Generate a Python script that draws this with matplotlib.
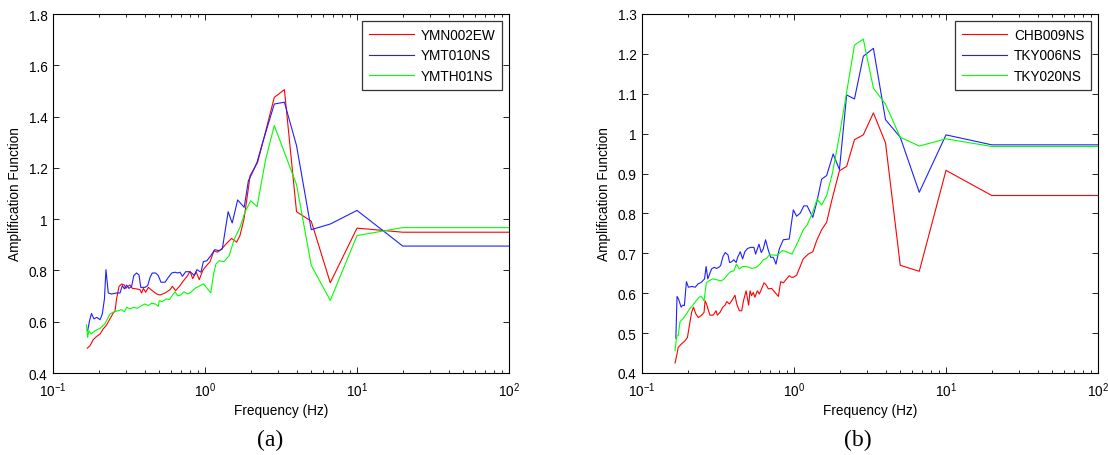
import matplotlib
matplotlib.use("Agg")
import matplotlib.pyplot as plt
from matplotlib.ticker import FuncFormatter, LogLocator, NullFormatter

plt.rcParams['font.family'] = ['Liberation Sans', 'DejaVu Sans']
plt.rcParams['mathtext.default'] = 'regular'

# ---- panel (a) ----
a_red_f = [0.168, 0.175, 0.184, 0.194, 0.204, 0.214, 0.225, 0.237, 0.247, 0.256, 0.262, 0.272,
           0.283, 0.295, 0.301, 0.310, 0.321, 0.333, 0.355, 0.373, 0.383, 0.393, 0.407, 0.424,
           0.450, 0.481, 0.506, 0.546, 0.589, 0.610, 0.641, 0.685, 0.710, 0.739, 0.769, 0.797,
           0.830, 0.873, 0.917, 0.966, 1.01, 1.079, 1.146, 1.205, 1.288, 1.375, 1.497, 1.614,
           1.698, 1.806, 1.90, 1.98, 2.10, 2.22, 2.5, 2.857, 3.33, 4.0, 5.0, 6.67, 10, 20, 100]
a_red_v = [0.497, 0.506, 0.530, 0.543, 0.552, 0.572, 0.587, 0.611, 0.630, 0.643, 0.689, 0.738,
           0.747, 0.743, 0.730, 0.738, 0.743, 0.730, 0.728, 0.725, 0.712, 0.730, 0.715, 0.734,
           0.721, 0.708, 0.704, 0.712, 0.725, 0.738, 0.721, 0.741, 0.754, 0.767, 0.780, 0.797,
           0.768, 0.795, 0.764, 0.800, 0.815, 0.834, 0.877, 0.871, 0.884, 0.903, 0.925, 0.910,
           0.936, 1.001, 1.092, 1.170, 1.196, 1.222, 1.34, 1.475, 1.505, 1.029, 0.992, 0.752,
           0.965, 0.949, 0.949]

a_blue_f = [0.169, 0.174, 0.179, 0.186, 0.194, 0.204, 0.211, 0.218, 0.223, 0.231, 0.243, 0.262,
            0.276, 0.286, 0.295, 0.305, 0.316, 0.329, 0.340, 0.355, 0.368, 0.378, 0.403, 0.420,
            0.435, 0.450, 0.473, 0.493, 0.513, 0.546, 0.574, 0.604, 0.635, 0.661, 0.685, 0.710,
            0.746, 0.785, 0.817, 0.851, 0.884, 0.941, 0.975, 1.03, 1.09, 1.16, 1.24, 1.30, 1.42,
            1.51, 1.64, 1.81, 1.93, 2.03, 2.20, 2.38, 2.857, 3.33, 4.0, 5.0, 6.67, 10, 20, 100]
a_blue_v = [0.565, 0.604, 0.632, 0.611, 0.617, 0.608, 0.630, 0.689, 0.803, 0.712, 0.708, 0.712,
            0.712, 0.741, 0.728, 0.743, 0.730, 0.738, 0.780, 0.790, 0.782, 0.734, 0.734, 0.741,
            0.773, 0.790, 0.790, 0.780, 0.754, 0.754, 0.773, 0.790, 0.793, 0.790, 0.793, 0.777,
            0.795, 0.795, 0.790, 0.780, 0.803, 0.793, 0.834, 0.838, 0.857, 0.881, 0.877, 0.884,
            1.029, 0.985, 1.075, 1.046, 1.150, 1.176, 1.222, 1.293, 1.449, 1.456, 1.287, 0.959,
            0.981, 1.034, 0.895, 0.895]

a_green_f = [0.166, 0.169, 0.172, 0.178, 0.189, 0.204, 0.219, 0.231, 0.237, 0.249, 0.269, 0.283,
             0.295, 0.305, 0.321, 0.340, 0.358, 0.383, 0.403, 0.424, 0.445, 0.473, 0.493, 0.500,
             0.522, 0.556, 0.583, 0.604, 0.635, 0.661, 0.693, 0.728, 0.767, 0.805, 0.858, 0.910,
             0.975, 1.0, 1.092, 1.134, 1.18, 1.24, 1.33, 1.44, 1.56, 1.70, 1.83, 2.0, 2.2, 2.5,
             2.857, 3.33, 4.0, 5.0, 6.67, 10, 20, 100]
a_green_v = [0.587, 0.539, 0.565, 0.552, 0.565, 0.574, 0.591, 0.617, 0.630, 0.637, 0.643, 0.647,
             0.639, 0.656, 0.650, 0.656, 0.652, 0.663, 0.669, 0.663, 0.672, 0.669, 0.660, 0.682,
             0.678, 0.689, 0.686, 0.699, 0.717, 0.701, 0.704, 0.717, 0.708, 0.714, 0.730, 0.738,
             0.748, 0.741, 0.712, 0.780, 0.825, 0.838, 0.834, 0.857, 0.923, 0.968, 1.027, 1.072,
             1.049, 1.23, 1.365, 1.26, 1.135, 0.82, 0.683, 0.936, 0.967, 0.967]

# ---- panel (b) ----
b_red_f = [0.165, 0.169, 0.173, 0.182, 0.192, 0.199, 0.205, 0.212, 0.218, 0.226, 0.235, 0.247,
           0.256, 0.260, 0.266, 0.272, 0.280, 0.294, 0.307, 0.313, 0.326, 0.340, 0.352, 0.361,
           0.376, 0.389, 0.409, 0.420, 0.437, 0.453, 0.465, 0.484, 0.503, 0.514, 0.526, 0.540,
           0.553, 0.574, 0.591, 0.612, 0.635, 0.655, 0.678, 0.713, 0.750, 0.789, 0.817, 0.851,
           0.885, 0.931, 0.96, 0.99, 1.04, 1.15, 1.24, 1.33, 1.41, 1.52, 1.64, 1.77, 1.99, 2.22,
           2.5, 2.857, 3.33, 4.0, 5.0, 6.67, 10, 20, 100]
b_red_v = [0.425, 0.443, 0.464, 0.473, 0.481, 0.489, 0.519, 0.552, 0.565, 0.548, 0.539, 0.545,
           0.552, 0.581, 0.573, 0.560, 0.545, 0.545, 0.556, 0.545, 0.552, 0.565, 0.570, 0.579,
           0.573, 0.581, 0.595, 0.573, 0.556, 0.556, 0.581, 0.606, 0.570, 0.606, 0.594, 0.602,
           0.590, 0.606, 0.598, 0.611, 0.626, 0.621, 0.611, 0.612, 0.602, 0.592, 0.629, 0.626,
           0.634, 0.644, 0.640, 0.640, 0.645, 0.686, 0.698, 0.704, 0.732, 0.759, 0.778, 0.832,
           0.907, 0.918, 0.985, 0.997, 1.052, 0.977, 0.670, 0.655, 0.908, 0.845, 0.845]

b_blue_f = [0.167, 0.170, 0.174, 0.181, 0.185, 0.190, 0.196, 0.202, 0.213, 0.224, 0.233, 0.245,
            0.258, 0.264, 0.271, 0.276, 0.287, 0.299, 0.309, 0.320, 0.329, 0.341, 0.353, 0.368,
            0.377, 0.390, 0.402, 0.416, 0.426, 0.443, 0.459, 0.475, 0.494, 0.519, 0.545, 0.559,
            0.574, 0.588, 0.609, 0.628, 0.650, 0.674, 0.702, 0.731, 0.761, 0.80, 0.85, 0.93, 0.99,
            1.04, 1.10, 1.16, 1.22, 1.33, 1.42, 1.52, 1.64, 1.81, 1.99, 2.22, 2.5, 2.857, 3.33,
            4.0, 5.0, 6.67, 10, 20, 100]
b_blue_v = [0.487, 0.592, 0.585, 0.565, 0.570, 0.569, 0.629, 0.615, 0.617, 0.615, 0.623, 0.627,
            0.636, 0.667, 0.636, 0.644, 0.661, 0.665, 0.662, 0.665, 0.669, 0.692, 0.702, 0.696,
            0.677, 0.679, 0.684, 0.677, 0.690, 0.704, 0.686, 0.704, 0.712, 0.715, 0.715, 0.698,
            0.711, 0.723, 0.702, 0.711, 0.734, 0.711, 0.690, 0.690, 0.673, 0.711, 0.734, 0.736,
            0.809, 0.793, 0.801, 0.819, 0.819, 0.790, 0.832, 0.886, 0.895, 0.949, 0.910, 1.097,
            1.087, 1.194, 1.214, 1.035, 0.991, 0.853, 0.997, 0.972, 0.972]

b_green_f = [0.165, 0.169, 0.173, 0.178, 0.187, 0.196, 0.205, 0.216, 0.227, 0.238, 0.246, 0.256,
             0.265, 0.276, 0.292, 0.309, 0.332, 0.348, 0.368, 0.383, 0.402, 0.418, 0.437, 0.459,
             0.481, 0.505, 0.530, 0.565, 0.598, 0.628, 0.660, 0.687, 0.722, 0.77, 0.84, 0.89,
             0.97, 1.06, 1.15, 1.22, 1.33, 1.42, 1.52, 1.64, 1.79, 2.0, 2.22, 2.5, 2.857, 3.33,
             4.0, 5.0, 6.67, 10, 20, 100]
b_green_v = [0.456, 0.492, 0.494, 0.529, 0.537, 0.548, 0.560, 0.570, 0.581, 0.590, 0.592, 0.581,
             0.626, 0.631, 0.636, 0.634, 0.631, 0.636, 0.648, 0.654, 0.656, 0.673, 0.661, 0.667,
             0.667, 0.665, 0.662, 0.665, 0.673, 0.684, 0.687, 0.696, 0.696, 0.695, 0.707, 0.704,
             0.698, 0.728, 0.759, 0.771, 0.804, 0.836, 0.821, 0.845, 0.901, 1.0, 1.104, 1.222,
             1.237, 1.114, 1.074, 0.991, 0.969, 0.987, 0.968, 0.968]

a_labels = ['YMN002EW', 'YMT010NS', 'YMTH01NS']
b_labels = ['CHB009NS', 'TKY006NS', 'TKY020NS']
colors = ['#ff0000', '#2020ff', '#00ff00']

fig = plt.figure(figsize=(11.08, 4.56), dpi=100)
ax1 = fig.add_axes([53 / 1108, 82 / 456, 456 / 1108, 359 / 456])
ax2 = fig.add_axes([642 / 1108, 82 / 456, 456 / 1108, 359 / 456])

fmt = FuncFormatter(lambda v, p: '%g' % v)
fs = 9.8


def style(ax, ylim, yticks):
    ax.set_xscale('log')
    ax.set_xlim(0.1, 100)
    ax.set_ylim(*ylim)
    ax.set_yticks(yticks)
    ax.yaxis.set_major_formatter(fmt)
    ax.xaxis.set_major_locator(LogLocator(base=10, numticks=10))
    ax.xaxis.set_minor_locator(LogLocator(base=10, subs=range(2, 10), numticks=10))
    ax.xaxis.set_minor_formatter(NullFormatter())
    ax.tick_params(which='both', direction='in', top=True, right=True, labelsize=fs)
    ax.tick_params(axis='x', pad=5)
    ax.tick_params(axis='y', pad=4)
    ax.tick_params(which='major', length=4, width=0.6)
    ax.tick_params(which='minor', length=2, width=0.6)
    for s in ax.spines.values():
        s.set_linewidth(0.8)
    ax.set_xlabel('Frequency (Hz)', fontsize=fs, labelpad=3)
    ax.set_ylabel('Amplification Function', fontsize=fs, labelpad=5)


ax1.plot(a_red_f, a_red_v, color=colors[0], lw=0.8, label=a_labels[0])
ax1.plot(a_blue_f, a_blue_v, color=colors[1], lw=0.8, label=a_labels[1])
ax1.plot(a_green_f, a_green_v, color=colors[2], lw=0.8, label=a_labels[2])
style(ax1, (0.4, 1.8), [0.4, 0.6, 0.8, 1.0, 1.2, 1.4, 1.6, 1.8])

ax2.plot(b_red_f, b_red_v, color=colors[0], lw=0.8, label=b_labels[0])
ax2.plot(b_blue_f, b_blue_v, color=colors[1], lw=0.8, label=b_labels[1])
ax2.plot(b_green_f, b_green_v, color=colors[2], lw=0.8, label=b_labels[2])
style(ax2, (0.4, 1.3), [0.4, 0.5, 0.6, 0.7, 0.8, 0.9, 1.0, 1.1, 1.2, 1.3])

for ax in (ax1, ax2):
    leg = ax.legend(loc='upper right', fontsize=fs, frameon=True, fancybox=False,
                    handlelength=3.3, handletextpad=0.5, labelspacing=0.5,
                    borderaxespad=0.5, borderpad=0.5)
    leg.get_frame().set_edgecolor('black')
    leg.get_frame().set_linewidth(0.9)

fig.text(270 / 1108, 1 - 440 / 456, '(a)', family='Liberation Serif', fontsize=17,
         ha='center', va='center')
fig.text(858 / 1108, 1 - 440 / 456, '(b)', family='Liberation Serif', fontsize=17,
         ha='center', va='center')

fig.savefig('out.png', dpi=100)
